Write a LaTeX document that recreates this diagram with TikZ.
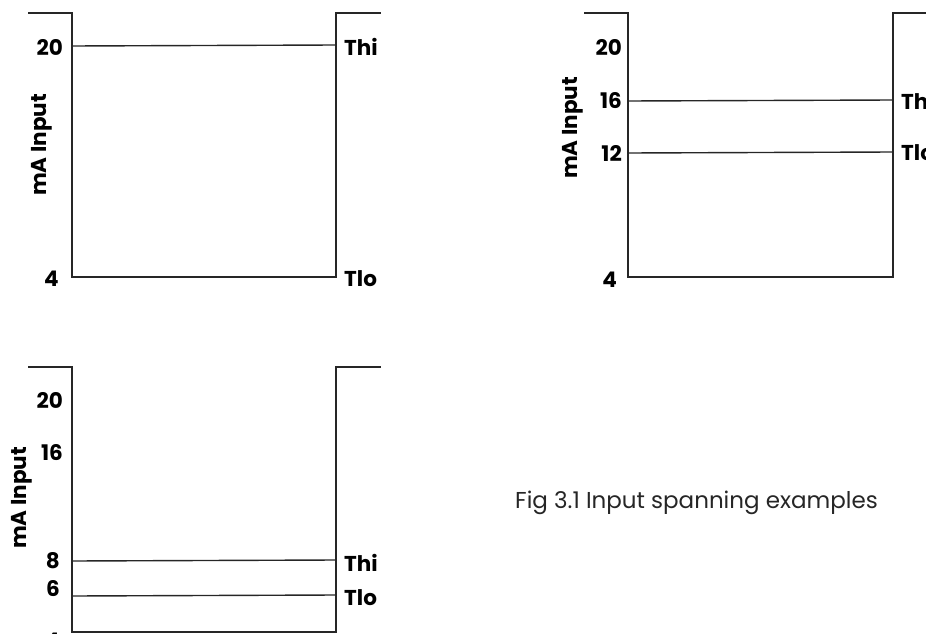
\documentclass[tikz,border=0pt]{standalone}
\usepackage{fontspec}
\setmainfont{Poppins}
\begin{document}
\begin{tikzpicture}[x=1pt,y=-1pt,
  frame/.style={draw=black!85,line width=1.5pt},
  level/.style={draw=black!85,line width=1.4pt},
  tick/.style={font=\fontsize{21.5}{21.5}\selectfont\bfseries,inner sep=0pt},
  axlab/.style={font=\fontsize{21.5}{21.5}\selectfont\bfseries,inner sep=0pt,rotate=90},
  caption/.style={font=\fontsize{23}{23}\selectfont,inner sep=0pt,text=black!85}]
\useasboundingbox (0,0) rectangle (926,634);
% Panel 1
\draw[frame] (28,13) -- (72,13) -- (72,277) -- (336,277) -- (336,13) -- (381,13);
\draw[level] (72,46) -- (336,45);
\node[tick,anchor=east] (p1a) at (63,47) {20};
\node[tick,anchor=east] (p1b) at (59,279) {4};
\node[tick,anchor=west] (p1c) at (344,47) {Thi};
\node[tick,anchor=west] (p1d) at (344,279) {Tlo};
\node[axlab] (p1e) at (42,145) {mA Input};
% Panel 2
\draw[frame] (584,13) -- (628,13) -- (628,277) -- (893,277) -- (893,13) -- (940,13);
\draw[level] (628,101) -- (893,100);
\draw[level] (628,153) -- (893,152);
\node[tick,anchor=east] (p2a) at (622,47) {20};
\node[tick,anchor=east] (p2b) at (622,101) {16};
\node[tick,anchor=east] (p2c) at (622,153) {12};
\node[tick,anchor=east] (p2d) at (617,280) {4};
\node[tick,anchor=west] (p2e) at (901,101) {Thi};
\node[tick,anchor=west] (p2f) at (901,153) {Tlo};
\node[axlab] (p2g) at (573,128) {mA Input};
% Panel 3
\draw[frame] (28,367) -- (72,367) -- (72,632) -- (336,632) -- (336,367) -- (381,367);
\draw[level] (72,561) -- (336,560);
\draw[level] (72,596) -- (336,595);
\node[tick,anchor=east] (p3a) at (63,400) {20};
\node[tick,anchor=east] (p3b) at (63,453) {16};
\node[tick,anchor=east] (p3c) at (60,561) {8};
\node[tick,anchor=east] (p3d) at (60,589) {6};
\node[tick,anchor=east] (p3e) at (60,641) {4};
\node[tick,anchor=west] (p3f) at (344,563) {Thi};
\node[tick,anchor=west] (p3g) at (344,598) {Tlo};
\node[axlab] (p3h) at (22,498) {mA Input};
% Caption
\node[caption,anchor=west] (cap) at (515,503) {Fig 3.1 Input spanning examples};
\end{tikzpicture}
\end{document}
